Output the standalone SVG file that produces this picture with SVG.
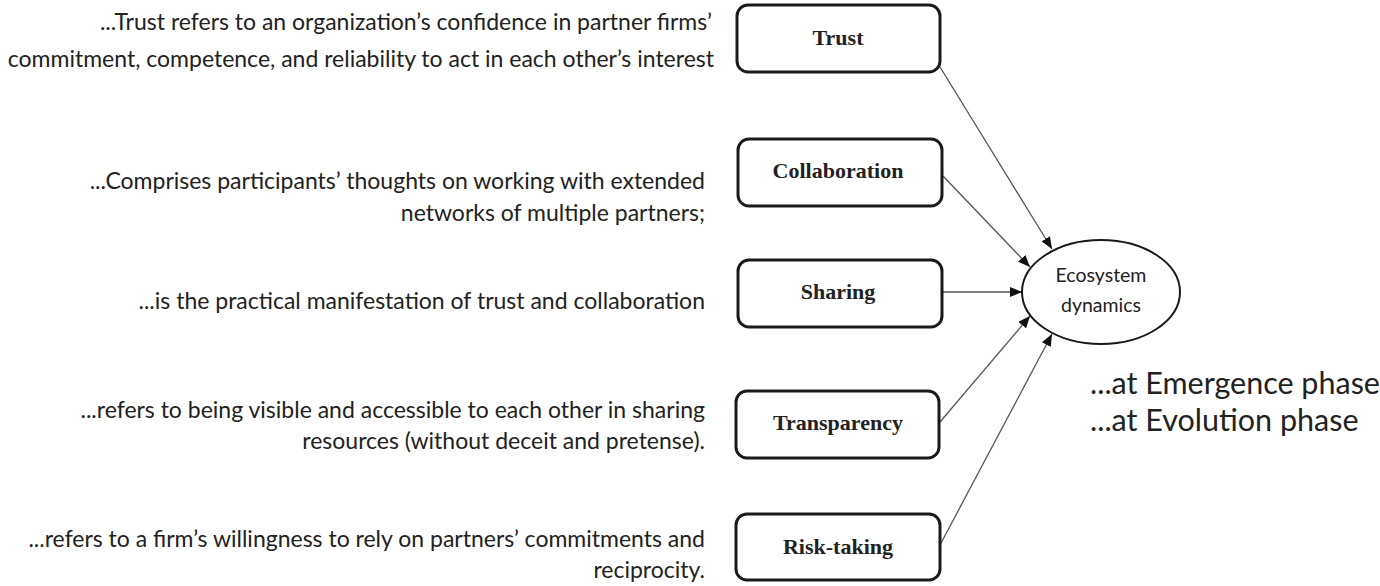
<svg xmlns="http://www.w3.org/2000/svg" width="1380" height="586" viewBox="0 0 1380 586">
<style>
.box{fill:#fff;stroke:#1a1a1a;stroke-width:3}
.lbl{font-family:"Liberation Serif","Times New Roman",serif;font-weight:bold;font-size:22px;fill:#222;text-anchor:middle}
.desc{font-family:Lato,"Open Sans",sans-serif;font-size:23px;fill:#222;text-anchor:end}
.eco{font-family:Lato,"Open Sans",sans-serif;font-size:19.5px;fill:#222;text-anchor:middle}
.phase{font-family:Lato,"Open Sans",sans-serif;font-size:30.5px;fill:#222}
.conn{stroke:#555;stroke-width:1.3;fill:none;marker-end:url(#ah)}
</style>
<defs>
<marker id="ah" viewBox="0 0 12 10" refX="12" refY="5" markerWidth="12" markerHeight="10" markerUnits="userSpaceOnUse" orient="auto">
<path d="M0,0 L12,5 L0,10 Z" fill="#111"/>
</marker>
</defs>
<rect width="1380" height="586" fill="#fff"/>
<g id="descriptions">
<text class="desc" x="712" y="30">...Trust refers to an organization’s confidence in partner firms’</text>
<text class="desc" x="714" y="67">commitment, competence, and reliability to act in each other’s interest</text>
<text class="desc" x="705" y="189">...Comprises participants’ thoughts on working with extended</text>
<text class="desc" x="705" y="221">networks of multiple partners;</text>
<text class="desc" x="705" y="309">...is the practical manifestation of trust and collaboration</text>
<text class="desc" x="705" y="418">...refers to being visible and accessible to each other in sharing</text>
<text class="desc" x="705" y="449">resources (without deceit and pretense).</text>
<text class="desc" x="705" y="547">...refers to a firm’s willingness to rely on partners’ commitments and</text>
<text class="desc" x="705" y="578">reciprocity.</text>
</g>
<g id="connectors">
<line class="conn" x1="940" y1="67" x2="1052" y2="249"/>
<line class="conn" x1="943" y1="176" x2="1030" y2="267"/>
<line class="conn" x1="943" y1="292" x2="1022" y2="292"/>
<line class="conn" x1="940" y1="422" x2="1030" y2="316"/>
<line class="conn" x1="940" y1="545" x2="1052" y2="334"/>
</g>
<g id="trust"><rect class="box" x="737" y="5" width="203" height="67" rx="11"/><text class="lbl" x="838" y="45">Trust</text></g>
<g id="collaboration"><rect class="box" x="738" y="139" width="204" height="67" rx="11"/><text class="lbl" x="838" y="178">Collaboration</text></g>
<g id="sharing"><rect class="box" x="738" y="260" width="204" height="67" rx="11"/><text class="lbl" x="838" y="299">Sharing</text></g>
<g id="transparency"><rect class="box" x="736" y="391" width="203" height="67" rx="11"/><text class="lbl" x="838" y="430">Transparency</text></g>
<g id="risk-taking"><rect class="box" x="736" y="514" width="204" height="66" rx="11"/><text class="lbl" x="838" y="554">Risk-taking</text></g>
<g id="ecosystem">
<ellipse cx="1101" cy="292" rx="79" ry="52" fill="#fff" stroke="#1a1a1a" stroke-width="2"/>
<text class="eco" x="1101" y="282">Ecosystem</text>
<text class="eco" x="1101" y="312">dynamics</text>
</g>
<g id="phases">
<text class="phase" x="1090" y="394">...at Emergence phase</text>
<text class="phase" x="1090" y="431">...at Evolution phase</text>
</g>
</svg>
